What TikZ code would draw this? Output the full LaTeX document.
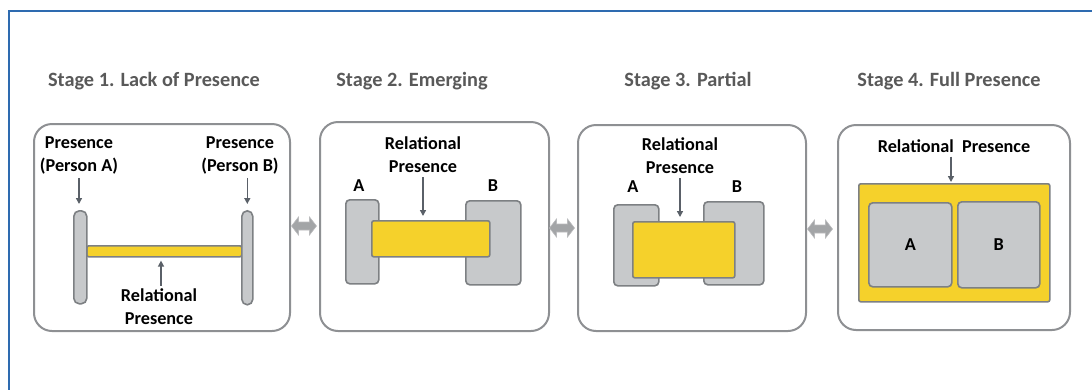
\documentclass[tikz,border=0pt]{standalone}
\usepackage{fontspec}
\setmainfont{Carlito}
\usetikzlibrary{arrows.meta}

\definecolor{frameblue}{HTML}{2E6BB0}
\definecolor{panelgray}{HTML}{8E9093}
\definecolor{shapegray}{HTML}{C7C9CB}
\definecolor{edgegray}{HTML}{7D8083}
\definecolor{fillyellow}{HTML}{F5D12B}
\definecolor{arrowgray}{HTML}{5A6068}
\definecolor{titlegray}{HTML}{595959}
\definecolor{linkgray}{HTML}{A3A5A7}

% box given by its left, top, right and bottom edges
\newcommand\shapebox[6]{%
  \node[#1, anchor=north west, inner sep=0pt,
        minimum width={(#5)-(#3)}, minimum height={(#6)-(#4)}] (#2) at (#3,#4) {};}

\tikzset{
  panel/.style={draw=panelgray, line width=2pt, rounded corners=18pt, fill=white},
  person/.style={draw=edgegray, fill=shapegray, line width=1.6pt, rounded corners=4pt},
  pill/.style={draw=edgegray, fill=shapegray, line width=1.6pt, rounded corners=5.5pt},
  relation/.style={draw=edgegray, fill=fillyellow, line width=1.6pt, rounded corners=2pt},
  pointer/.style={draw=arrowgray, line width=1.4pt, -{Triangle[length=6pt,width=6pt]}},
  stagetitle/.style={text=titlegray, font=\fontsize{20.3}{24}\selectfont\bfseries},
  txt/.style={inner sep=0pt, align=center, font=\fontsize{18.2}{23}\selectfont\bfseries},
  % two-headed block arrow between neighbouring panels
  link/.pic={
    \fill[linkgray, draw=linkgray!75, line width=0.6pt]
      (-12.5,0) -- (-5.5,-9) -- (-5.5,-4) -- (5.5,-4) -- (5.5,-9) -- (12.5,0)
      -- (5.5,9) -- (5.5,4) -- (-5.5,4) -- (-5.5,9) -- cycle;
  },
}

\begin{document}
\begin{tikzpicture}[x=1pt, y=-1pt]
\useasboundingbox (0,0) rectangle (1092,389);
\clip (0,0) rectangle (1092,389);

% page frame
\draw[frameblue, line width=2pt] (8.5,400) |- (1100,10.5);

% stage titles
\node[stagetitle] (t1) at (154,81) {Stage 1. Lack of Presence};
\node[stagetitle] (t2) at (412,81) {Stage 2. Emerging};
\node[stagetitle] (t3) at (688,81) {Stage 3. Partial};
\node[stagetitle] (t4) at (949,81) {Stage 4. Full Presence};

% panels
\shapebox{panel}{p1}{33}{123}{289}{330}
\shapebox{panel}{p2}{319}{121}{548}{330}
\shapebox{panel}{p3}{577}{124}{805}{330}
\shapebox{panel}{p4}{837}{124}{1069}{329}

% links between panels
\pic (lk1) at (304,226) {link};
\pic (lk2) at (562,228) {link};
\pic (lk3) at (820,229) {link};

% stage 1
\shapebox{relation}{y1}{86}{245}{241}{256}
\shapebox{pill}{a1}{73}{210}{86}{303}
\shapebox{pill}{b1}{241}{210}{252}{304}
\node[txt] (la1) at (79,155) {Presence\\(Person A)};
\node[txt] (lb1) at (240,155) {Presence\\(Person B)};
\node[txt] (r1) at (159,307) {Relational\\Presence};
\draw[pointer, shorten <=4pt, shorten >=6pt] (la1.south) -- (la1.south |- a1.north);
\draw[pointer, shorten <=4pt, shorten >=6pt] (lb1.south -| b1.north) -- (b1.north);
\draw[pointer, shorten <=3pt, shorten >=3pt] (r1.north -| 161,0) -- (y1.south -| 161,0);

% stage 2
\shapebox{person}{a2}{345}{199}{378}{283}
\shapebox{person}{b2}{465}{200}{520}{284}
\shapebox{relation}{y2}{371}{220}{489}{256}
\node[txt] (ta2) at (359,186) {A};
\node[txt] (tb2) at (493,186) {B};
\node[txt] (r2) at (423,155) {Relational\\Presence};
\draw[pointer, shorten <=4pt, shorten >=4pt] (r2.south) -- (r2.south |- y2.north);

% stage 3
\shapebox{person}{a3}{613}{204}{658}{285}
\shapebox{person}{b3}{703}{201}{763}{284}
\shapebox{relation}{y3}{632}{221}{734}{277}
\node[txt] (ta3) at (633,187) {A};
\node[txt] (tb3) at (737,187) {B};
\node[txt] (r3) at (680,156) {Relational\\Presence};
\draw[pointer, shorten <=4pt, shorten >=4pt] (r3.south) -- (r3.south |- y3.north);

% stage 4
\shapebox{relation}{y4}{858}{183}{1049}{301}
\shapebox{person}{a4}{868}{202}{951}{286}
\shapebox{person}{b4}{957}{201}{1039}{287}
\node[txt] at (a4.center) (ta4) {A};
\node[txt] at (b4.center) (tb4) {B};
\node[txt] (r4) at (954,146) {Relational~~Presence};
\draw[pointer, shorten <=4pt, shorten >=1pt] (r4.south -| 951,0) -- (y4.north -| 951,0);
\end{tikzpicture}
\end{document}
